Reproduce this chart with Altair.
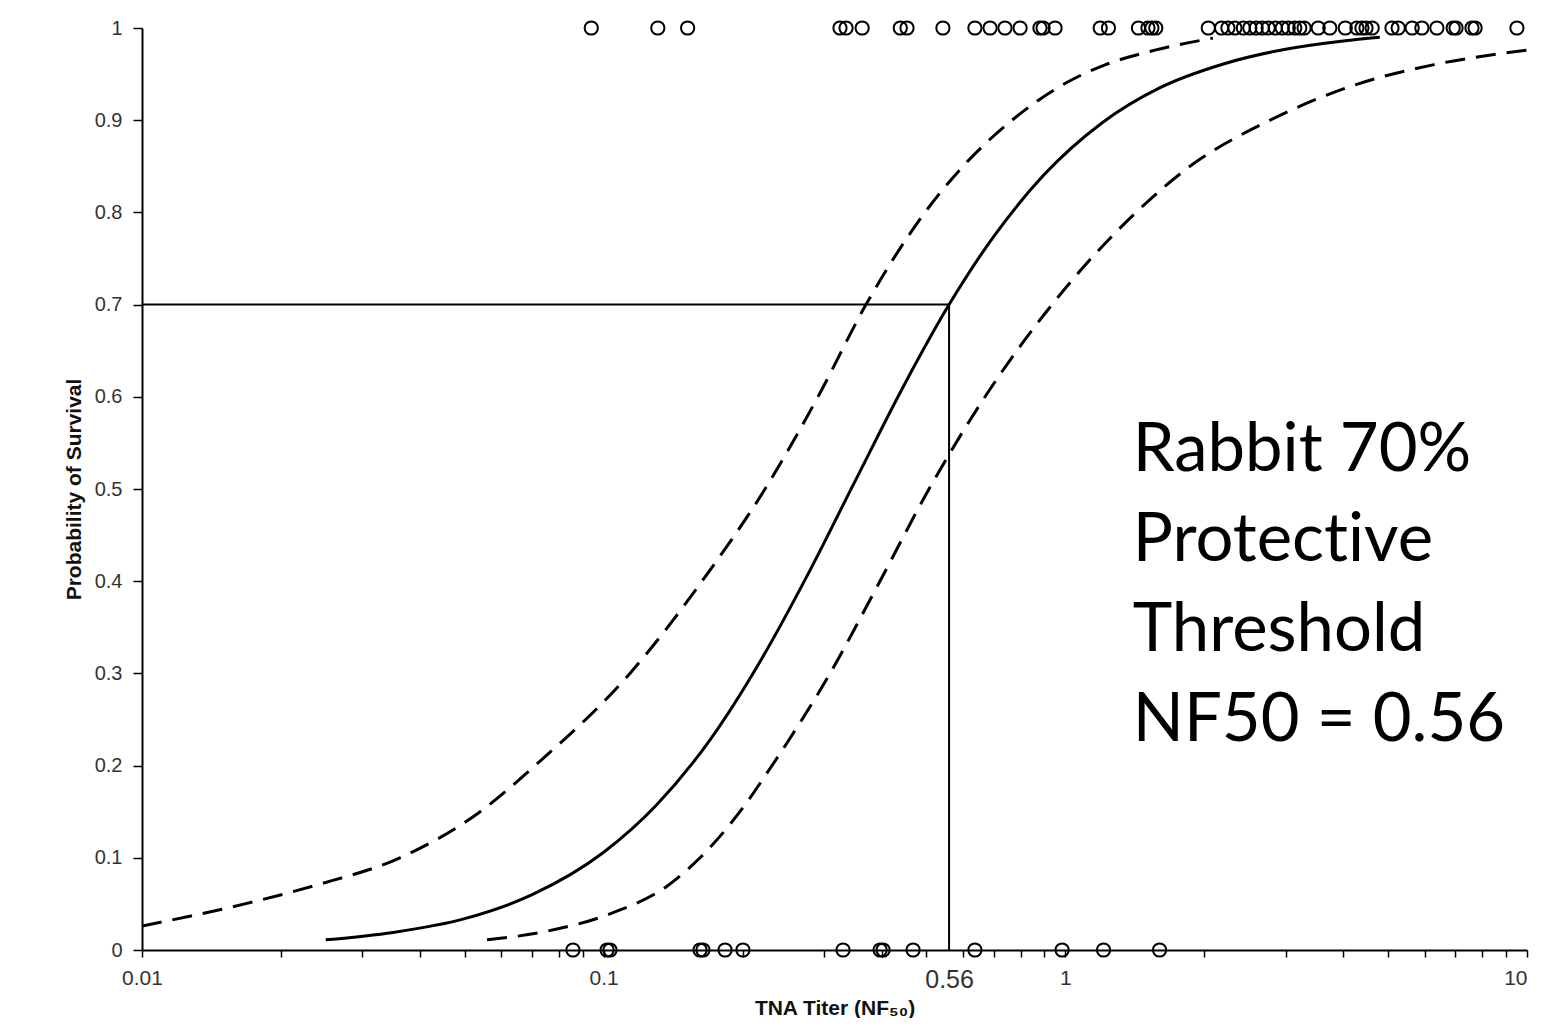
import altair as alt
import pandas as pd

# Observed animals: survivors plotted at 1, non-survivors at 0 (TNA titer, NF50)
survivor_titers = [0.094, 0.131, 0.152, 0.325, 0.335, 0.363, 0.439, 0.454, 0.543,
                   0.637, 0.687, 0.740, 0.798, 0.881, 0.895, 0.950, 1.19, 1.24,
                   1.44, 1.51, 1.54, 1.57, 2.04, 2.18, 2.25, 2.33, 2.43, 2.51,
                   2.59, 2.67, 2.75, 2.85, 2.95, 3.04, 3.14, 3.22, 3.29, 3.53,
                   3.74, 4.04, 4.28, 4.39, 4.48, 4.62, 5.10, 5.26, 5.64, 5.92,
                   6.38, 6.92, 7.02, 7.60, 7.72, 9.51]
nonsurvivor_titers = [0.0858, 0.1017, 0.1032, 0.1617, 0.1641, 0.1832, 0.2003,
                      0.330, 0.397, 0.403, 0.468, 0.637, 0.984, 1.21, 1.60]

# Fitted probability of survival
fit_x = [0.025, 0.035, 0.05, 0.07, 0.1, 0.13, 0.17, 0.22, 0.28, 0.35, 0.45,
         0.56, 0.7, 0.9, 1.2, 1.6, 2.2, 3.0, 4.0, 4.8]
fit_p = [0.011, 0.019, 0.034, 0.060, 0.106, 0.157, 0.228, 0.316, 0.412, 0.508,
         0.615, 0.700, 0.774, 0.841, 0.897, 0.935, 0.961, 0.977, 0.986, 0.990]

# Upper confidence bound
upper_x = [0.01, 0.0167, 0.0237, 0.0362, 0.0540, 0.0710, 0.1140, 0.1633, 0.2236,
           0.2912, 0.3700, 0.4966, 0.6003, 0.7666, 1.0, 1.219, 1.564, 2.088]
upper_p = [0.026, 0.050, 0.070, 0.100, 0.150, 0.200, 0.300, 0.400, 0.500,
           0.600, 0.700, 0.800, 0.850, 0.900, 0.940, 0.960, 0.976, 0.989]

# Lower confidence bound
lower_x = [0.0559, 0.0746, 0.1042, 0.1378, 0.1617, 0.1973, 0.2315, 0.3092,
           0.3967, 0.5067, 0.6699, 0.9357, 1.423, 1.862, 2.776, 4.346, 6.256, 10.0]
lower_p = [0.011, 0.020, 0.040, 0.070, 0.100, 0.150, 0.200, 0.300, 0.400,
           0.500, 0.600, 0.700, 0.800, 0.850, 0.900, 0.940, 0.960, 0.976]

threshold_titer = 0.56
threshold_prob = 0.7
x_min, x_max = 0.01, 10

x_tick_values = [0.01, 0.02, 0.03, 0.04, 0.05, 0.06, 0.07, 0.08, 0.09,
                 0.1, 0.2, 0.3, 0.4, 0.5, 0.56, 0.6, 0.7, 0.8, 0.9,
                 1, 2, 3, 4, 5, 6, 7, 8, 9, 10]
x_label_values = [0.01, 0.1, 0.56, 1, 10]
y_tick_values = [0, 0.1, 0.2, 0.3, 0.4, 0.5, 0.6, 0.7, 0.8, 0.9, 1]

# "\u200c" only prevents the font's "ti" ligature; the text reads the same
annotation_lines = ["Rabbit 70%", "Protect\u200cive", "Threshold", "NF50 = 0.56"]
annotation_x = 1.40
annotation_y = 0.5195

points = pd.DataFrame({
    "titer": survivor_titers + nonsurvivor_titers,
    "p": [1] * len(survivor_titers) + [0] * len(nonsurvivor_titers),
})
fit_df = pd.DataFrame({"titer": fit_x, "p": fit_p})
upper_df = pd.DataFrame({"titer": upper_x, "p": upper_p})
lower_df = pd.DataFrame({"titer": lower_x, "p": lower_p})
hrule_df = pd.DataFrame({"x": [x_min], "x2": [threshold_titer], "y": [threshold_prob]})
vrule_df = pd.DataFrame({"x": [threshold_titer], "y": [0], "y2": [threshold_prob]})
text_df = pd.DataFrame({"x": [annotation_x], "y": [annotation_y],
                        "t": ["\n".join(annotation_lines)]})

label_test = " || ".join(f"datum.value == {v}" for v in x_label_values)
is_threshold = f"datum.value == {threshold_titer}"
x_axis = alt.Axis(
    title="TNA Titer (NF₅₀)", values=x_tick_values,
    labelExpr=f"({label_test}) ? format(datum.value, '~g') : ''",
    tickSize=7, tickWidth=1.5, tickColor="#000",
    tickOpacity={"condition": {"test": is_threshold, "value": 0}, "value": 1},
    domainColor="#000", domainWidth=2,
    labelFont="Liberation Sans", labelColor="#333",
    labelFontSize={"condition": {"test": is_threshold, "value": 25}, "value": 21},
    labelAlign={"condition": {"test": f"datum.value == {x_max}", "value": "right"}, "value": "center"},
    labelPadding=10, labelFlush=False, labelOverlap=False,
    titleFont="Liberation Sans", titleFontSize=21, titleFontWeight="bold",
    titleColor="#111", titlePadding=5, grid=False,
)
y_axis = alt.Axis(
    title="Probability of Survival", values=y_tick_values, format="~g",
    tickSize=9, tickWidth=1.5, tickColor="#000",
    domainColor="#000", domainWidth=2,
    labelFont="Liberation Sans", labelFontSize=20, labelColor="#333",
    labelPadding=11, labelFlush=False,
    titleFont="Liberation Sans", titleFontSize=21, titleFontWeight="bold",
    titleColor="#111", titlePadding=10, grid=False,
)
xs = alt.Scale(type="log", domain=[x_min, x_max], nice=False)
ys = alt.Scale(domain=[0, 1], nice=False)

X = alt.X("titer:Q", scale=xs, axis=x_axis)
Y = alt.Y("p:Q", scale=ys, axis=y_axis)

fit = alt.Chart(fit_df).mark_line(color="#000", strokeWidth=3, interpolate="monotone").encode(x=X, y=Y)
upper = alt.Chart(upper_df).mark_line(color="#000", strokeWidth=3, strokeDash=[20, 11],
                                      interpolate="monotone").encode(x=X, y=Y)
lower = alt.Chart(lower_df).mark_line(color="#000", strokeWidth=3, strokeDash=[20, 11],
                                      interpolate="monotone").encode(x=X, y=Y)
hrule = alt.Chart(hrule_df).mark_rule(color="#000", strokeWidth=2).encode(
    x=alt.X("x:Q", scale=xs, axis=x_axis), x2="x2:Q", y=alt.Y("y:Q", scale=ys, axis=y_axis))
vrule = alt.Chart(vrule_df).mark_rule(color="#000", strokeWidth=2).encode(
    x=alt.X("x:Q", scale=xs, axis=x_axis), y=alt.Y("y:Q", scale=ys, axis=y_axis), y2="y2:Q")
pts = alt.Chart(points).mark_point(shape="circle", filled=False, color="#000", size=175,
                                   strokeWidth=2, opacity=1, clip=False).encode(x=X, y=Y)
txt = alt.Chart(text_df).mark_text(align="left", baseline="alphabetic", font="Lato",
                                   fontSize=67, lineHeight=90, lineBreak="\n",
                                   color="#000").encode(
    x=alt.X("x:Q", scale=xs, axis=x_axis), y=alt.Y("y:Q", scale=ys, axis=y_axis), text="t:N")

chart = alt.layer(hrule, vrule, upper, lower, fit, pts, txt).properties(
    width=1385, height=922,
    padding={"left": 134, "top": 20, "right": 7, "bottom": 68},
    autosize=alt.AutoSizeParams(type="none"),
    background="white",
).configure_view(stroke=None)

chart.save("out.html", embed_options={"renderer": "svg", "actions": False})
